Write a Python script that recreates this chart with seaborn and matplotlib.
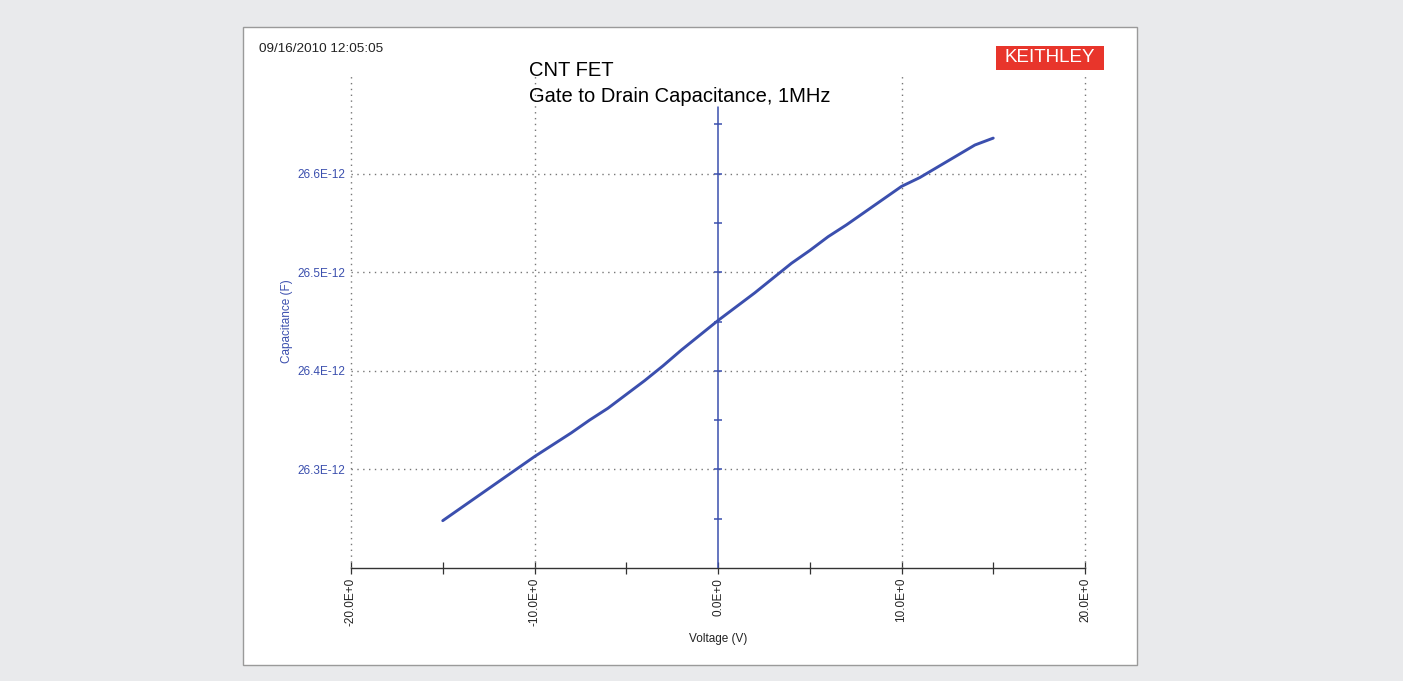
import matplotlib
matplotlib.use("Agg")
import matplotlib.pyplot as plt
import matplotlib.patches as patches
import numpy as np
import pandas as pd
import seaborn as sns

voltage = [-15, -14, -13, -12, -11, -10, -9, -8, -7, -6, -5, -4, -3, -2, -1, 0,
           1, 2, 3, 4, 5, 6, 7, 8, 9, 10, 11, 12, 13, 14, 15]
cap_pf = [26.248, 26.261, 26.274, 26.287, 26.300, 26.313, 26.325, 26.337, 26.350,
          26.362, 26.376, 26.390, 26.405, 26.421, 26.436, 26.451,
          26.465, 26.479, 26.494, 26.509, 26.522, 26.536, 26.548, 26.561, 26.574,
          26.587, 26.596, 26.607, 26.618, 26.629, 26.636]

x_ticks = [-20, -10, 0, 10, 20]
x_labels = ["-20.0E+0", "-10.0E+0", "0.0E+0", "10.0E+0", "20.0E+0"]
y_ticks = [26.3, 26.4, 26.5, 26.6]
y_labels = ["26.3E-12", "26.4E-12", "26.5E-12", "26.6E-12"]

df = pd.DataFrame({"Voltage": voltage, "Capacitance": np.array(cap_pf) * 1e-12})

sns.set_style("white")
plt.rcParams['font.family'] = ['Liberation Sans', 'DejaVu Sans']

W, H = 1403, 681
blue = "#3b4fae"
grid_kw = dict(color="#777777", linestyle=(0, (1, 3.2)), linewidth=1)
fig = plt.figure(figsize=(W / 100, H / 100), dpi=100, facecolor="#e9eaec")

# white panel behind everything
fig.patches.append(patches.Rectangle((243 / W, 1 - 665 / H), 894 / W, 638 / H,
                                     transform=fig.transFigure, facecolor="white",
                                     edgecolor="#9a9a9a", linewidth=1, zorder=-5))

ax = fig.add_axes([351 / W, 1 - 568 / H, 734 / W, 493 / H])
ax.set_facecolor("none")
ax.set_zorder(2)

sns.lineplot(data=df, x="Voltage", y="Capacitance", ax=ax, color=blue,
             linewidth=2.1, zorder=4)

# zero axis with small ticks
ax.plot([0, 0], [26.2e-12, 26.668e-12], color=blue, linewidth=1.1, zorder=3)
ax.plot(np.zeros(9), np.arange(26.25, 26.66, 0.05) * 1e-12, linestyle="none",
        marker="_", markersize=6, markeredgewidth=1.1, color=blue, zorder=3)

ax.set_xlim(-20, 20)
ax.set_ylim(26.2e-12, 26.7e-12)
ax.set_xticks(x_ticks)
ax.set_xticklabels(x_labels, rotation=90, fontsize=8.5, color="#222222")
ax.set_xticks([-15, -5, 5, 15], minor=True)
ax.set_yticks([t * 1e-12 for t in y_ticks])
ax.set_yticklabels(y_labels, fontsize=8.5, color=blue)
ax.tick_params(axis="x", which="both", direction="inout", length=8, width=0.9,
               color="#333333", pad=3, bottom=True)
ax.tick_params(axis="y", length=0, pad=4)

for s in ["top", "right", "left"]:
    ax.spines[s].set_visible(False)
ax.spines["bottom"].set_color("#333333")
ax.spines["bottom"].set_linewidth(1)

ax.grid(False)
for y in y_ticks:
    ax.axhline(y * 1e-12, zorder=1, **grid_kw)
for x in x_ticks:
    if x != 0:
        ax.axvline(x, zorder=1, clip_on=False, **grid_kw)

ax.set_xlabel("Voltage (V)", fontsize=8.5, color="#222222", labelpad=5)
ax.set_ylabel("Capacitance (F)", fontsize=8.5, color=blue, labelpad=3)

fig.text(259 / W, 1 - 49 / H, "09/16/2010 12:05:05", fontsize=9.7, color="#222222",
         va="center", ha="left")
fig.text(529 / W, 1 - 70 / H, "CNT FET", fontsize=14.5, color="black",
         va="center", ha="left")
fig.text(529 / W, 1 - 96 / H, "Gate to Drain Capacitance, 1MHz", fontsize=14.5,
         color="black", va="center", ha="left")
fig.patches.append(patches.Rectangle((996 / W, 1 - 70 / H), 108 / W, 24 / H,
                                     transform=fig.transFigure, facecolor="#e8352b",
                                     edgecolor="none", zorder=1))
fig.text(1050 / W, 1 - 58 / H, "KEITHLEY", fontsize=13.5, color="white",
         va="center", ha="center")

fig.savefig("out.png", dpi=100, facecolor=fig.get_facecolor())
